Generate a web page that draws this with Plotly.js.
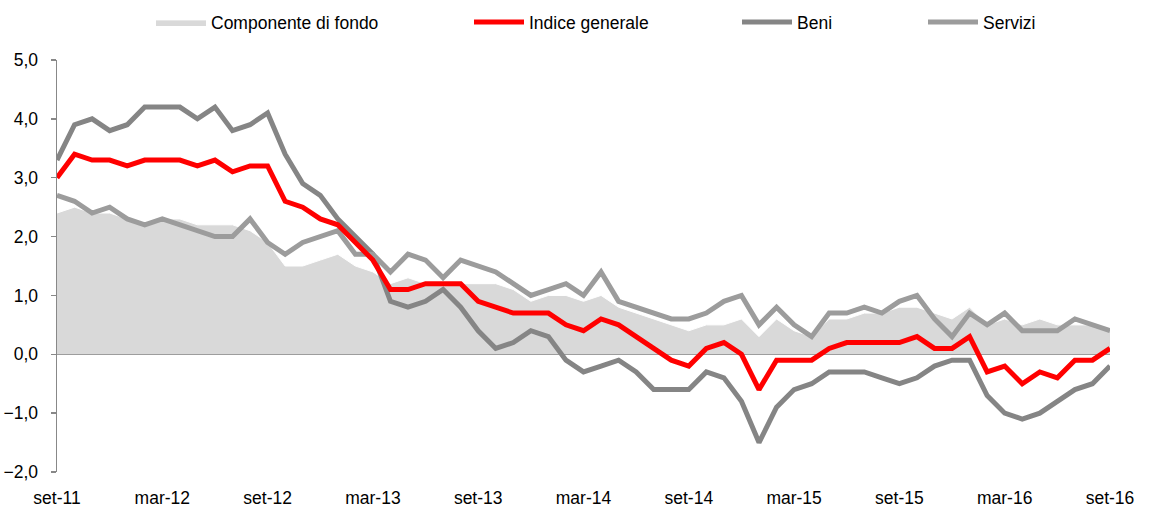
<!DOCTYPE html>
<html>
<head>
<meta charset="utf-8">
<script src="https://cdn.plot.ly/plotly-3.0.1.min.js"></script>
<style>html,body{margin:0;padding:0;background:#fff}#chart{width:1150px;height:508px}</style>
</head>
<body>
<div id="chart"></div>
<script>
const months = [
  'set-11','ott-11','nov-11','dic-11','gen-12','feb-12','mar-12','apr-12','mag-12','giu-12','lug-12','ago-12',
  'set-12','ott-12','nov-12','dic-12','gen-13','feb-13','mar-13','apr-13','mag-13','giu-13','lug-13','ago-13',
  'set-13','ott-13','nov-13','dic-13','gen-14','feb-14','mar-14','apr-14','mag-14','giu-14','lug-14','ago-14',
  'set-14','ott-14','nov-14','dic-14','gen-15','feb-15','mar-15','apr-15','mag-15','giu-15','lug-15','ago-15',
  'set-15','ott-15','nov-15','dic-15','gen-16','feb-16','mar-16','apr-16','mag-16','giu-16','lug-16','ago-16',
  'set-16'
];
const tickLabels = ['set-11','mar-12','set-12','mar-13','set-13','mar-14','set-14','mar-15','set-15','mar-16','set-16'];

const componenteDiFondo = [
  2.4,2.5,2.4,2.4,2.3,2.2,2.3,2.3,2.2,2.2,2.2,2.1,
  1.9,1.5,1.5,1.6,1.7,1.5,1.4,1.2,1.3,1.2,1.2,1.2,
  1.2,1.2,1.1,0.9,1.0,1.0,0.9,1.0,0.8,0.7,0.6,0.5,
  0.4,0.5,0.5,0.6,0.3,0.6,0.4,0.3,0.6,0.6,0.7,0.7,
  0.8,0.8,0.7,0.6,0.8,0.5,0.6,0.5,0.6,0.5,0.5,0.5,0.4
];
const indiceGenerale = [
  3.0,3.4,3.3,3.3,3.2,3.3,3.3,3.3,3.2,3.3,3.1,3.2,
  3.2,2.6,2.5,2.3,2.2,1.9,1.6,1.1,1.1,1.2,1.2,1.2,
  0.9,0.8,0.7,0.7,0.7,0.5,0.4,0.6,0.5,0.3,0.1,-0.1,
  -0.2,0.1,0.2,0.0,-0.6,-0.1,-0.1,-0.1,0.1,0.2,0.2,0.2,
  0.2,0.3,0.1,0.1,0.3,-0.3,-0.2,-0.5,-0.3,-0.4,-0.1,-0.1,0.1
];
const beni = [
  3.3,3.9,4.0,3.8,3.9,4.2,4.2,4.2,4.0,4.2,3.8,3.9,
  4.1,3.4,2.9,2.7,2.3,2.0,1.7,0.9,0.8,0.9,1.1,0.8,
  0.4,0.1,0.2,0.4,0.3,-0.1,-0.3,-0.2,-0.1,-0.3,-0.6,-0.6,
  -0.6,-0.3,-0.4,-0.8,-1.5,-0.9,-0.6,-0.5,-0.3,-0.3,-0.3,-0.4,
  -0.5,-0.4,-0.2,-0.1,-0.1,-0.7,-1.0,-1.1,-1.0,-0.8,-0.6,-0.5,-0.2
];
const servizi = [
  2.7,2.6,2.4,2.5,2.3,2.2,2.3,2.2,2.1,2.0,2.0,2.3,
  1.9,1.7,1.9,2.0,2.1,1.7,1.7,1.4,1.7,1.6,1.3,1.6,
  1.5,1.4,1.2,1.0,1.1,1.2,1.0,1.4,0.9,0.8,0.7,0.6,
  0.6,0.7,0.9,1.0,0.5,0.8,0.5,0.3,0.7,0.7,0.8,0.7,
  0.9,1.0,0.6,0.3,0.7,0.5,0.7,0.4,0.4,0.4,0.6,0.5,0.4
];

const FONT = '"Liberation Sans", Arial, sans-serif';
const FS = 17.5;

const traces = [
  {x: months, y: componenteDiFondo, name: 'Componente di fondo', type: 'scatter', mode: 'lines',
   fill: 'tozeroy', fillcolor: '#d9d9d9', line: {color: '#ffffff', width: 1}, legend: 'legend'},
  {x: months, y: beni, name: 'Beni', type: 'scatter', mode: 'lines',
   line: {color: '#858585', width: 5}, legend: 'legend3'},
  {x: months, y: servizi, name: 'Servizi', type: 'scatter', mode: 'lines',
   line: {color: '#9c9c9c', width: 5}, legend: 'legend4'},
  {x: months, y: indiceGenerale, name: 'Indice generale', type: 'scatter', mode: 'lines',
   line: {color: '#ff0000', width: 5}, legend: 'legend2'}
];

function leg(px) {
  return {x: px / 1150, xref: 'container', xanchor: 'left', y: 1 - 22 / 508, yref: 'container',
          yanchor: 'middle', orientation: 'h', itemwidth: 50, bgcolor: 'rgba(0,0,0,0)', borderwidth: 0,
          font: {family: FONT, size: FS, color: '#000'}};
}

const layout = {
  width: 1150, height: 508,
  margin: {l: 57, r: 40, t: 60, b: 36},
  paper_bgcolor: '#ffffff', plot_bgcolor: '#ffffff',
  separators: ',.',
  font: {family: FONT, size: FS, color: '#000'},
  showlegend: true,
  xaxis: {type: 'category', range: [0, months.length - 1], showline: false, ticks: '', showgrid: false,
          zeroline: false, tickvals: tickLabels, ticktext: tickLabels, ticklabelstandoff: 13,
          tickfont: {family: FONT, size: FS, color: '#000'}},
  yaxis: {range: [-2, 5], tick0: 0, dtick: 1, tickformat: '.1f', showline: true, linecolor: '#888',
          linewidth: 1.5, ticks: 'outside', ticklen: 5, tickcolor: '#888', tickwidth: 1.5,
          showgrid: false, zeroline: true, zerolinecolor: '#888', zerolinewidth: 1.5,
          ticklabelstandoff: 9, tickfont: {family: FONT, size: FS, color: '#000'}},
  legend: leg(151),
  legend2: leg(469),
  legend3: leg(737),
  legend4: leg(923)
};

Plotly.newPlot('chart', traces, layout, {staticPlot: true, displayModeBar: false});
</script>
</body>
</html>
